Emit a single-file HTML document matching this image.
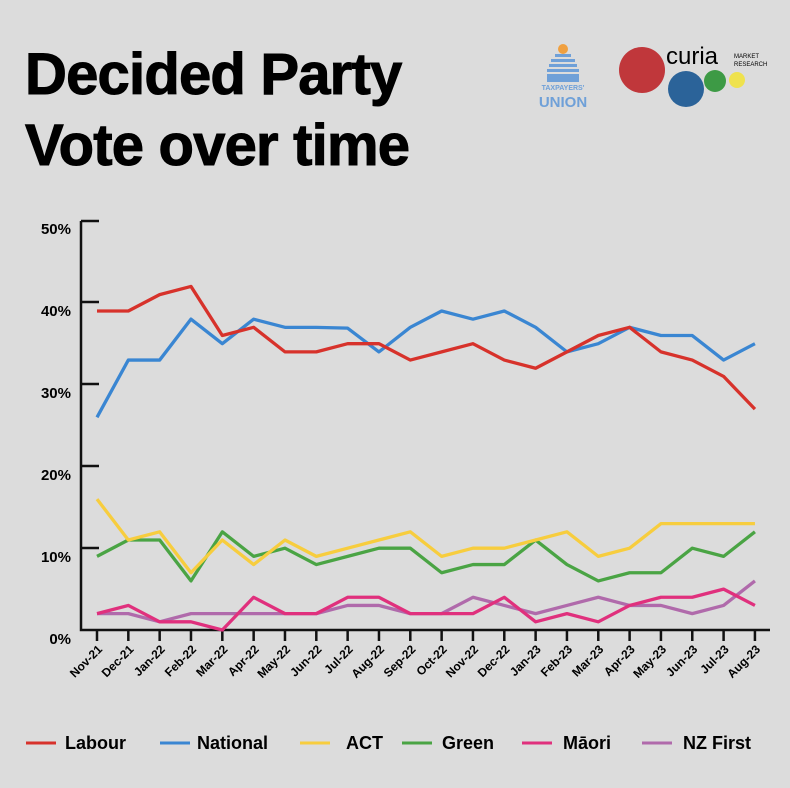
<!DOCTYPE html>
<html><head><meta charset="utf-8"><style>
body{margin:0;background:#dcdcdc;}
svg{display:block;font-family:"Liberation Sans",Arial,sans-serif;}
</style></head><body>
<svg width="790" height="788" viewBox="0 0 790 788" xmlns="http://www.w3.org/2000/svg">
<rect width="790" height="788" fill="#dcdcdc"/>
<text x="25" y="94" font-size="58" font-weight="bold" letter-spacing="-0.8" fill="#000" stroke="#000" stroke-width="1">Decided Party</text>
<text x="25" y="165" font-size="58" font-weight="bold" letter-spacing="-0.8" fill="#000" stroke="#000" stroke-width="1">Vote over time</text>
<!-- TU logo -->
<circle cx="563" cy="49" r="5" fill="#f0a040"/>
<g fill="#6fa0d8">
<rect x="555" y="54" width="16" height="3"/><rect x="551" y="59" width="24" height="3"/><rect x="549" y="64" width="28" height="3"/><rect x="547" y="69" width="32" height="3"/>
<rect x="547" y="74" width="32" height="8"/>
</g>
<text x="563" y="90" font-size="7" font-weight="bold" fill="#6fa0d8" text-anchor="middle">TAXPAYERS'</text>
<text x="563" y="107" font-size="15" font-weight="bold" fill="#6fa0d8" text-anchor="middle">UNION</text>
<!-- curia logo -->
<circle cx="642" cy="70" r="23" fill="#c0373b"/>
<circle cx="686" cy="89" r="18" fill="#2b6399"/>
<circle cx="715" cy="81" r="11" fill="#3d9a45"/>
<circle cx="737" cy="80" r="8" fill="#efe24e"/>
<text x="666" y="64" font-size="24" fill="#000">curia</text>
<text x="734" y="58" font-size="6" fill="#000">MARKET</text>
<text x="734" y="66" font-size="6" fill="#000">RESEARCH</text>
<!-- axes -->
<g stroke="#111" stroke-width="2.5" fill="none">
<path d="M81,221 V630 H770"/>
<path d="M81,221H99M81,302H99M81,384H99M81,466H99M81,548H99"/>
<path id="xt" d=""/>
</g>
<g font-size="15" font-weight="bold" text-anchor="end" fill="#000">
<text x="71" y="234">50%</text><text x="71" y="316">40%</text><text x="71" y="398">30%</text><text x="71" y="480">20%</text><text x="71" y="562">10%</text><text x="71" y="644">0%</text>
</g>
<g id="chart"></g>
<g font-size="18" font-weight="bold" fill="#000">
<line x1="26" y1="743" x2="56" y2="743" stroke="#d7322b" stroke-width="3"/><text x="65" y="749">Labour</text>
<line x1="160" y1="743" x2="190" y2="743" stroke="#3a86d2" stroke-width="3"/><text x="197" y="749">National</text>
<line x1="300" y1="743" x2="330" y2="743" stroke="#f7cd3e" stroke-width="3"/><text x="346" y="749">ACT</text>
<line x1="402" y1="743" x2="432" y2="743" stroke="#4aa444" stroke-width="3"/><text x="442" y="749">Green</text>
<line x1="522" y1="743" x2="552" y2="743" stroke="#e0307d" stroke-width="3"/><text x="563" y="749">Māori</text>
<line x1="642" y1="743" x2="672" y2="743" stroke="#b06aab" stroke-width="3"/><text x="683" y="749">NZ First</text>
</g>
<script>
var ns="http://www.w3.org/2000/svg",g=document.getElementById("chart");
var X=function(i){return 97+i*31.33},Y=function(v){return 630-v*8.18};
var labels=["Nov-21","Dec-21","Jan-22","Feb-22","Mar-22","Apr-22","May-22","Jun-22","Jul-22","Aug-22","Sep-22","Oct-22","Nov-22","Dec-22","Jan-23","Feb-23","Mar-23","Apr-23","May-23","Jun-23","Jul-23","Aug-23"];
var d="";labels.forEach(function(l,i){d+="M"+X(i)+",630V641";
var t=document.createElementNS(ns,"text");t.setAttribute("transform","translate("+(X(i)+6)+",650) rotate(-45)");t.setAttribute("text-anchor","end");t.setAttribute("font-size","12");t.setAttribute("font-weight","bold");t.textContent=l;g.appendChild(t);});
document.getElementById("xt").setAttribute("d",d);
var S=[
["#b06aab",[2,2,1,2,2,2,2,2,3,3,2,2,4,3,2,3,4,3,3,2,3,6]],
["#e0307d",[2,3,1,1,0,4,2,2,4,4,2,2,2,4,1,2,1,3,4,4,5,3]],
["#4aa444",[9,11,11,6,12,9,10,8,9,10,10,7,8,8,11,8,6,7,7,10,9,12]],
["#f7cd3e",[16,11,12,7,11,8,11,9,10,11,12,9,10,10,11,12,9,10,13,13,13,13]],
["#3a86d2",[26,33,33,38,35,38,37,37,36.9,34,37,39,38,39,37,34,35,37,36,36,33,35]],
["#d7322b",[39,39,41,42,36,37,34,34,35,35,33,34,35,33,32,34,36,37,34,33,31,27]]];
S.forEach(function(s){var p=document.createElementNS(ns,"polyline");p.setAttribute("points",s[1].map(function(v,i){return X(i)+","+Y(v)}).join(" "));p.setAttribute("fill","none");p.setAttribute("stroke",s[0]);p.setAttribute("stroke-width","3.3");p.setAttribute("stroke-linejoin","round");g.appendChild(p);});
</script>
</svg>
</body></html>
